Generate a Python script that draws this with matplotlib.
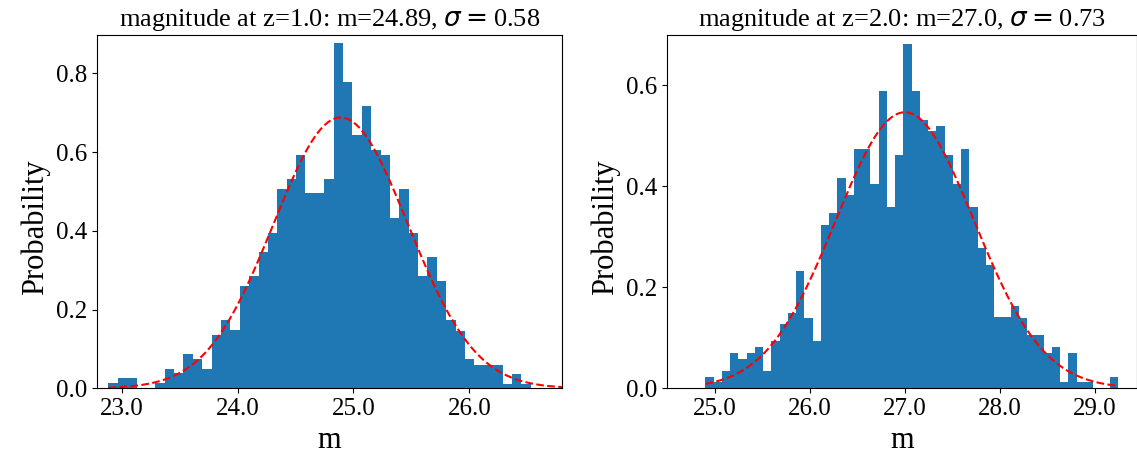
import numpy as np
import matplotlib
matplotlib.use("Agg")
import matplotlib.pyplot as plt
from matplotlib.ticker import MultipleLocator

plt.rcParams['font.family'] = ['Liberation Serif', 'DejaVu Serif']
plt.rcParams['mathtext.fontset'] = 'dejavusans'

# ---- Panel 1: z = 1.0 ----
z1 = 1.0
mean1, sigma1 = 24.89, 0.58
range1 = (22.885, 26.53)
density1 = [0.0127, 0.0254, 0.0254, 0.0, 0.0, 0.0127, 0.049, 0.038, 0.087, 0.0745,
            0.049, 0.136, 0.1735, 0.148, 0.26, 0.285, 0.346, 0.395, 0.506, 0.532,
            0.593, 0.496, 0.496, 0.532, 0.878, 0.779, 0.6425, 0.716, 0.605, 0.592,
            0.4326, 0.505, 0.395, 0.284, 0.3335, 0.272, 0.173, 0.146, 0.0735, 0.060,
            0.060, 0.060, 0.0118, 0.0364, 0.0118]
xticks1 = [23.0, 24.0, 25.0, 26.0]

# ---- Panel 2: z = 2.0 ----
z2 = 2.0
mean2, sigma2 = 27.0, 0.73
range2 = (24.90, 29.245)
density2 = [0.0231, 0.0119, 0.035, 0.070, 0.058, 0.070, 0.081, 0.035, 0.093, 0.127,
            0.150, 0.232, 0.139, 0.093, 0.323, 0.347, 0.4165, 0.382, 0.4746, 0.4746,
            0.4046, 0.589, 0.358, 0.4627, 0.682, 0.589, 0.531, 0.5096, 0.520, 0.4627,
            0.4046, 0.4746, 0.358, 0.278, 0.2436, 0.1406, 0.1406, 0.162, 0.139, 0.105,
            0.105, 0.070, 0.081, 0.0119, 0.070, 0.0119, 0.0119, 0.0, 0.0, 0.0231]
xticks2 = [25.0, 26.0, 27.0, 28.0, 29.0]


def gauss(x, mu, s):
    return np.exp(-0.5 * ((x - mu) / s) ** 2) / (s * np.sqrt(2 * np.pi))


fig = plt.figure(figsize=(11.37, 4.57), dpi=100)
ax1 = fig.add_axes([97 / 1137, 1 - 388.3 / 457, 465 / 1137, 353.6 / 457])
ax2 = fig.add_axes([667.3 / 1137, 1 - 388.3 / 457, 469.2 / 1137, 353.6 / 457])

panels = [
    (ax1, z1, mean1, sigma1, range1, density1, xticks1, (22.787, 26.80), 0.898, (range1[0], 26.9)),
    (ax2, z2, mean2, sigma2, range2, density2, xticks2, (24.498, 29.44), 0.700, range2),
]

for ax, z, mu, s, rng, dens, xt, xl, ytop, crng in panels:
    edges = np.linspace(rng[0], rng[1], len(dens) + 1)
    ax.hist(edges[:-1], bins=edges, weights=dens, color='#1f77b4')
    xs = np.linspace(crng[0], crng[1], 300)
    ax.plot(xs, gauss(xs, mu, s), 'r--', lw=1.5)
    ax.set_xlim(*xl)
    ax.set_ylim(0, ytop)
    ax.set_xticks(xt)
    ax.set_xticklabels([f"{v:.1f}" for v in xt])
    ax.yaxis.set_major_locator(MultipleLocator(0.2))
    ax.tick_params(labelsize=18)
    ax.set_xlabel('m', fontsize=22)
    ax.set_ylabel('Probability', fontsize=22)
    ax.yaxis.set_label_coords(-0.101, 0.455)
    ax.set_title(f"magnitude at z={z}: m={mu}, $\\sigma=$0.{str(s).split('.')[1]}", fontsize=19)

fig.savefig('out.png', dpi=100)
